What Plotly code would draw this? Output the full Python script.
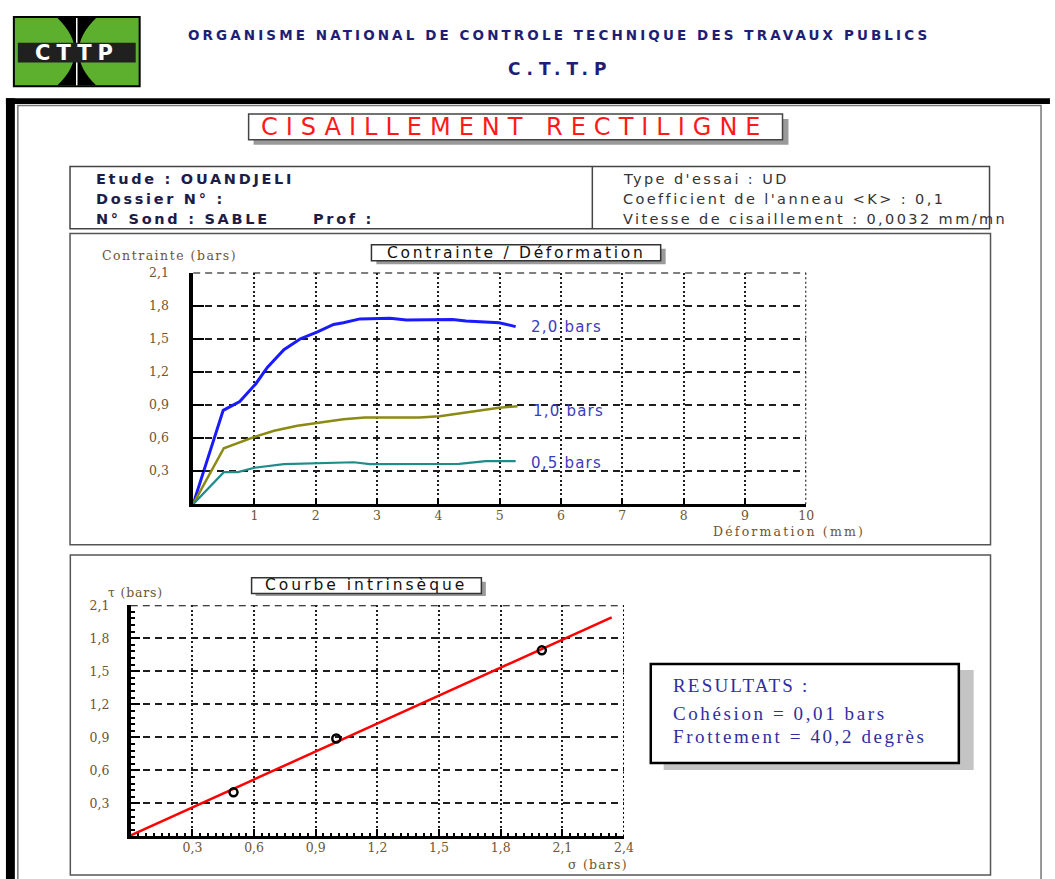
import plotly.graph_objects as go

W, H = 1055, 879

# ---------------- data ----------------
deform_2_0 = [0, 0.49, 0.76, 1.02, 1.21, 1.48, 1.75, 2.02, 2.29, 2.45, 2.72, 3.0, 3.21, 3.48, 4.02, 4.23, 4.45, 4.99, 5.26]
contr_2_0 = [0, 0.85, 0.93, 1.09, 1.24, 1.40, 1.50, 1.56, 1.63, 1.645, 1.68, 1.68, 1.685, 1.67, 1.67, 1.675, 1.66, 1.645, 1.61]
deform_1_0 = [0, 0.50, 1.0, 1.32, 1.70, 2.02, 2.45, 2.80, 3.69, 4.02, 4.56, 4.99, 5.29]
contr_1_0 = [0, 0.507, 0.61, 0.665, 0.71, 0.736, 0.77, 0.785, 0.785, 0.797, 0.84, 0.875, 0.887]
deform_0_5 = [0, 0.50, 0.73, 1.0, 1.48, 2.02, 2.62, 2.88, 3.26, 4.34, 4.77, 5.26]
contr_0_5 = [0, 0.29, 0.29, 0.33, 0.363, 0.37, 0.38, 0.363, 0.363, 0.366, 0.39, 0.39]
curve_labels = ["2,0 bars", "1,0 bars", "0,5 bars"]

sigma_n = [0.5, 1.0, 2.0]
tau_max = [0.40, 0.89, 1.69]
sigma_fit = [0.0, 2.34]
tau_fit = [0.01, 1.99]
cohesion = "0,01"
frottement = "40,2"

up_x_max = 10
lo_x_max = 2.4
y_max = 2.1
up_xtick_vals = [1, 2, 3, 4, 5, 6, 7, 8, 9, 10]
up_xtick_text = ["1", "2", "3", "4", "5", "6", "7", "8", "9", "10"]
ytick_vals = [0.3, 0.6, 0.9, 1.2, 1.5, 1.8, 2.1]
ytick_text = ["0,3", "0,6", "0,9", "1,2", "1,5", "1,8", "2,1"]
lo_xtick_vals = [0.3, 0.6, 0.9, 1.2, 1.5, 1.8, 2.1, 2.4]
lo_xtick_text = ["0,3", "0,6", "0,9", "1,2", "1,5", "1,8", "2,1", "2,4"]

# ---------------- helpers ----------------
def P(x):
    return x / W

def Q(y):
    return 1 - y / H

shapes = []
annotations = []

def rect(x0, y0, x1, y1, line_color=None, line_width=0, fill=None, layer="above"):
    d = dict(type="rect", xref="paper", yref="paper", x0=P(x0), x1=P(x1), y0=Q(y1), y1=Q(y0),
             line=dict(color=line_color or "rgba(0,0,0,0)", width=line_width), layer=layer)
    if fill:
        d["fillcolor"] = fill
    shapes.append(d)

def vline(x, y0, y1, color, width):
    shapes.append(dict(type="line", xref="paper", yref="paper", x0=P(x), x1=P(x), y0=Q(y0), y1=Q(y1),
                       line=dict(color=color, width=width)))

def path(pts, fill, color="rgba(0,0,0,0)", width=0):
    shapes.append(dict(type="path", xref="paper", yref="paper", path=pts, fillcolor=fill,
                       line=dict(color=color, width=width)))

def sp(s, ls):
    return f'<span style="letter-spacing:{ls}px">{s}</span>' if ls else s

def text(x, y, s, size, color, family="DejaVu Sans", weight="normal", xanchor="left", ls=0):
    f = dict(size=size, color=color, family=family, weight=weight)
    annotations.append(dict(xref="paper", yref="paper", x=P(x), y=Q(y), text=sp(s, ls), showarrow=False,
                            xanchor=xanchor, yanchor="middle", font=f, borderpad=0, borderwidth=0))

# ---------------- page frame ----------------
rect(6, 91, 1060, 97, fill="black")
rect(6, 91, 15, 890, fill="black")
rect(18, 98.5, 1051, 890, line_color="#777777", line_width=1.5)

# logo
rect(14, 9, 141, 79, line_color="black", line_width=2, fill="#5cb02e")
def pp(x, y):
    return f"{P(x):.5f},{Q(y):.5f}"
path(f"M{pp(58,10)} Q{pp(93,44)} {pp(58,78)} L{pp(97,78)} Q{pp(62,44)} {pp(97,10)} Z", fill="black")
vline(77.5, 10, 78, "white", 1.5)
rect(18, 35, 137, 55, fill="#202020")
text(77.5, 45.5, "CTTP", 21, "white", weight="bold", xanchor="center", ls=6)

# header
text(564, 27, "ORGANISME NATIONAL DE CONTROLE TECHNIQUE DES TRAVAUX PUBLICS", 13.5, "#1e1e78",
     weight="bold", xanchor="center", ls=3.1)
text(565, 62, "C.T.T.P", 17, "#1e1e78", weight="bold", xanchor="center", ls=6)

# title box
rect(256, 112, 796, 138, fill="#9a9a9a")
rect(251, 107, 790, 133, line_color="#444444", line_width=1.5, fill="white")
text(520, 120.5, "CISAILLEMENT RECTILIGNE", 24, "#ff1a1a", xanchor="center", ls=8)

# info box
rect(70.7, 160, 999, 222.7, line_color="#444444", line_width=1.5)
vline(598, 160, 222.7, "#444444", 1.5)
info_col = "#1c1c48"
text(97, 173, "Etude : OUANDJELI", 14.5, info_col, weight="bold", ls=2.7)
text(97, 193, "Dossier N° :", 14.5, info_col, weight="bold", ls=2.7)
text(97, 213, "N° Sond : SABLE", 14.5, info_col, weight="bold", ls=2.7)
text(316, 213, "Prof :", 14.5, info_col, weight="bold", ls=2.7)
right_col = "#333333"
text(629, 173, "Type d'essai : UD", 14.5, right_col, ls=2.4)
text(629, 193, "Coefficient de l'anneau &lt;K&gt; : 0,1", 14.5, right_col, ls=2.4)
text(629, 213, "Vitesse de cisaillement : 0,0032 mm/mn", 14.5, right_col, ls=2.4)

# upper panel
rect(70.7, 227.5, 1000, 541.7, line_color="#555555", line_width=1.5)
rect(380, 243, 672, 258.5, fill="#9a9a9a")
rect(375, 239, 667, 255, line_color="#333333", line_width=1.5, fill="white")
text(521, 247.5, "Contrainte / Déformation", 15.5, "#111111", xanchor="center", ls=2.7)

lab_col = "#6e5530"
text(103, 250, "Contrainte (bars)", 12.5, lab_col, family="DejaVu Serif", ls=1.5)
text(720, 528, "Déformation (mm)", 12.5, lab_col, family="DejaVu Serif", ls=2.2)

# lower panel
rect(71, 552, 1000, 875, line_color="#555555", line_width=1.5)
rect(258, 579, 490.5, 593.5, fill="#9a9a9a")
rect(254, 575, 486, 591, line_color="#333333", line_width=1.5, fill="white")
text(370, 582.5, "Courbe intrinsèque", 15.5, "#111111", xanchor="center", ls=3)
text(109, 590, "τ (bars)", 12.5, lab_col, family="DejaVu Serif", ls=0.8)
text(573, 864, "σ (bars)", 12.5, lab_col, family="DejaVu Serif", ls=1.2)

# results box
rect(670, 668, 983, 769, fill="#c4c4c4")
rect(657, 662, 968, 762, line_color="black", line_width=2.5, fill="white")
res_col = "#2e2ea0"
text(679, 684, "RESULTATS :", 19, res_col, family="Liberation Serif", ls=2.2)
text(679, 711.5, f"Cohésion = {cohesion} bars", 19, res_col, family="Liberation Serif", ls=2.6)
text(679, 735.5, f"Frottement = {frottement} degrès", 19, res_col, family="Liberation Serif", ls=2.6)

# ---------------- traces ----------------
fig = go.Figure()
series = [
    (deform_2_0, contr_2_0, "#1a1aff", 3.0),
    (deform_1_0, contr_1_0, "#8a8a14", 2.5),
    (deform_0_5, contr_0_5, "#1f8c8c", 2.2),
]
lbl_shift = [0, -5, -2]
for (xs, ys, col, lw), lbl, ysh in zip(series, curve_labels, lbl_shift):
    fig.add_trace(go.Scatter(x=xs, y=ys, mode="lines", line=dict(color=col, width=lw),
                             xaxis="x", yaxis="y", hoverinfo="skip"))
    annotations.append(dict(xref="x", yref="y", x=xs[-1], y=ys[-1], text=sp(lbl, 1.2), showarrow=False,
                            xanchor="left", yanchor="middle", xshift=13, yshift=ysh,
                            font=dict(size=15, color="#3b3bc0", family="DejaVu Sans")))

fig.add_trace(go.Scatter(x=sigma_fit, y=tau_fit, mode="lines", line=dict(color="#ff0000", width=2.5),
                         xaxis="x2", yaxis="y2", hoverinfo="skip"))
fig.add_trace(go.Scatter(x=sigma_n, y=tau_max, mode="markers",
                         marker=dict(symbol="circle-open", size=8, color="black", line=dict(width=2.5, color="black")),
                         xaxis="x2", yaxis="y2", hoverinfo="skip"))

grid_col = "#1e1e1e"
vdash = "2px,2.5px"
hdash = "7px,5px"

# edge grid lines (plotly skips grid lines on the range ends)
for xr, yr, xmax in (("x", "y", up_x_max), ("x2", "y2", lo_x_max)):
    shapes.append(dict(type="line", xref=xr, yref=yr, x0=xmax, x1=xmax, y0=0, y1=y_max, layer="below",
                       line=dict(color="black", width=2, dash=vdash)))
    shapes.append(dict(type="line", xref=xr, yref=yr, x0=0, x1=xmax, y0=y_max, y1=y_max, layer="below",
                       line=dict(color="black", width=2, dash=hdash)))

tickfont = dict(family="DejaVu Serif", size=12.5, color=lab_col)

common_x = dict(showline=True, linecolor="black", ticks="inside", tickcolor="black", tickwidth=2,
                showgrid=True, gridcolor=grid_col, gridwidth=1.6, griddash=vdash, zeroline=False,
                tickfont=tickfont, fixedrange=True, ticklabelstandoff=-2)
common_y = dict(showline=True, linecolor="black", ticks="inside", tickcolor="black", tickwidth=2,
                showgrid=True, gridcolor=grid_col, gridwidth=1.6, griddash=hdash, zeroline=False,
                tickfont=tickfont, fixedrange=True)

fig.update_layout(
    width=W, height=H, autosize=False,
    margin=dict(l=0, r=0, t=0, b=0, pad=0),
    paper_bgcolor="white", plot_bgcolor="rgba(0,0,0,0)",
    showlegend=False,
    xaxis=dict(domain=[P(195), P(814)], range=[0, up_x_max], anchor="y", tickvals=up_xtick_vals,
               ticktext=up_xtick_text, ticklen=6, linewidth=2.5, **common_x),
    yaxis=dict(domain=[Q(500.7), Q(267)], range=[0, y_max], anchor="x", tickvals=ytick_vals,
               ticktext=ytick_text, ticklen=11, linewidth=3.5, ticklabelstandoff=18, **common_y),
    xaxis2=dict(domain=[P(132), P(630)], range=[0, lo_x_max], anchor="y2", tickvals=lo_xtick_vals,
                ticktext=lo_xtick_text, ticklen=8, linewidth=2.5,
                minor=dict(ticks="inside", dtick=0.0375, tick0=0, ticklen=4, tickwidth=1.5, tickcolor="black",
                           showgrid=False),
                **common_x),
    yaxis2=dict(domain=[Q(836), Q(602.7)], range=[0, y_max], anchor="x2", tickvals=ytick_vals,
                ticktext=ytick_text, ticklen=10, linewidth=3.5, ticklabelstandoff=15,
                minor=dict(ticks="inside", dtick=0.06, tick0=0, ticklen=5, tickwidth=1.5, tickcolor="black",
                           showgrid=False),
                **common_y),
    shapes=shapes,
    annotations=annotations,
)

fig.write_html("out.html")
